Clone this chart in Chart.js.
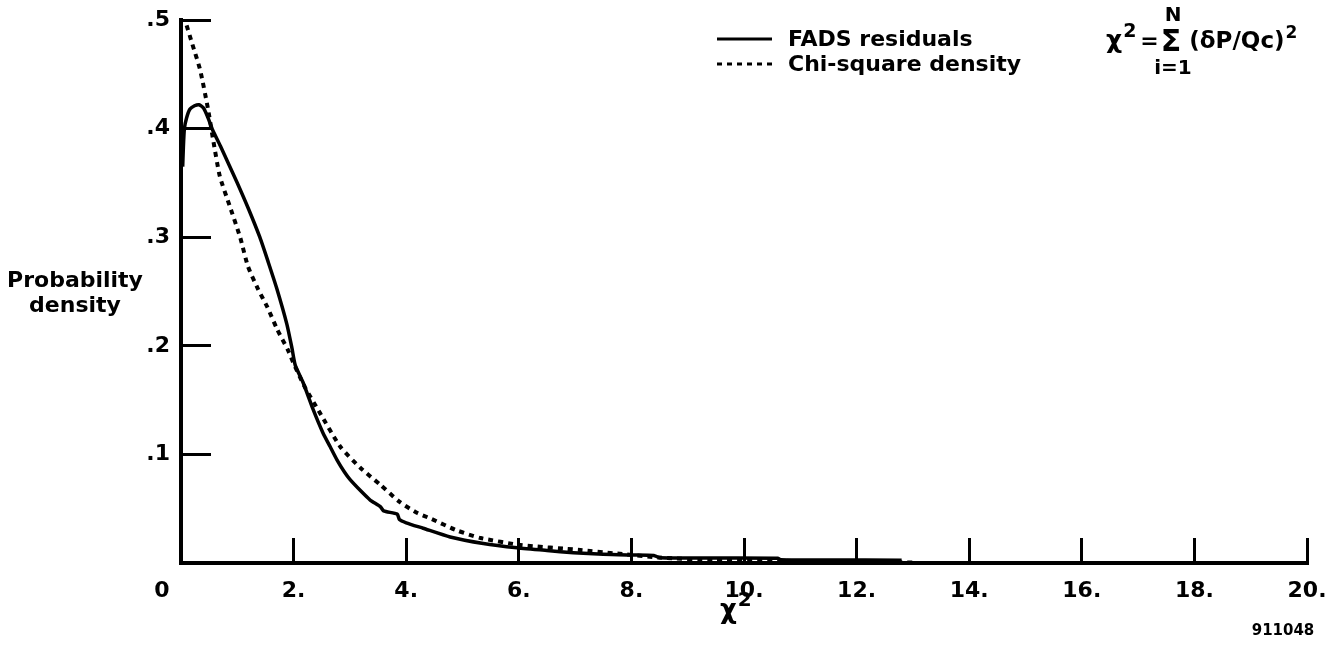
<!DOCTYPE html>
<html>
<head>
<meta charset="utf-8">
<script src="https://cdn.jsdelivr.net/npm/chart.js@4.4.1/dist/chart.umd.min.js"></script>
<style>
html, body { margin: 0; padding: 0; background: #fff; }
#cadre { width: 1335px; height: 649px; }
</style>
</head>
<body>
<div id="cadre"><canvas id="graphChi2"></canvas></div>
<script>

/* Résidus FADS (densité observée) */
const fadsX = [0.03, 0.04, 0.06, 0.1, 0.16, 0.24, 0.32, 0.4, 0.48, 0.56, 0.7, 0.85, 1.0, 1.2, 1.4, 1.55, 1.7, 1.88, 1.97, 2.03, 2.17, 2.35, 2.52, 2.65, 2.77, 2.9, 3.0, 3.2, 3.36, 3.54, 3.6, 3.84, 3.88, 4.0, 4.3, 4.78, 5.37, 5.97, 6.5, 6.97, 7.5, 7.98, 8.4, 8.5, 9.5, 10.6, 10.65, 11.5, 12.8];
const fadsY = [0.365, 0.38, 0.40, 0.41, 0.418, 0.421, 0.422, 0.419, 0.41, 0.399, 0.384, 0.367, 0.35, 0.326, 0.30, 0.277, 0.253, 0.22, 0.198, 0.182, 0.166, 0.141, 0.12, 0.107, 0.095, 0.084, 0.077, 0.066, 0.058, 0.052, 0.048, 0.045, 0.040, 0.037, 0.032, 0.024, 0.018, 0.014, 0.0115, 0.0095, 0.008, 0.0074, 0.007, 0.0048, 0.0046, 0.0044, 0.003, 0.0028, 0.0025];

/* Densité du chi-deux */
const chiX = [0.1, 0.2, 0.34, 0.48, 0.57, 0.69, 0.87, 1.05, 1.19, 1.37, 1.53, 1.71, 1.9, 1.99, 2.2, 2.47, 2.83, 3.18, 3.54, 3.89, 4.2, 4.43, 4.9, 5.32, 6.03, 7.09, 7.68, 8.5, 9.5, 10.7, 12.0, 13.0];
const chiY = [0.495, 0.478, 0.454, 0.418, 0.39, 0.356, 0.328, 0.30, 0.273, 0.252, 0.236, 0.215, 0.196, 0.185, 0.162, 0.138, 0.107, 0.088, 0.072, 0.056, 0.046, 0.041, 0.030, 0.023, 0.0166, 0.012, 0.009, 0.005, 0.0025, 0.002, 0.001, 0.0005];

/* Graduations */
const xTicks = [0, 2, 4, 6, 8, 10, 12, 14, 16, 18, 20];
const xTickLabels = ['0', '2.', '4.', '6.', '8.', '10.', '12.', '14.', '16.', '18.', '20.'];
const yTicks = [0, 0.1, 0.2, 0.3, 0.4, 0.5];
const yTickLabels = ['', '.1', '.2', '.3', '.4', '.5'];

const police = '"DejaVu Sans", "Liberation Sans", Arial, sans-serif';

function points(xs, ys) {
  return xs.map((x, i) => ({x: x, y: ys[i]}));
}

/* lettre avec exposant (chi2, (dP/Qc)2) */
function avecExposant(ctx, texte, x, base, taille) {
  ctx.font = 'bold ' + taille + 'px ' + police;
  ctx.fillText(texte, x, base);
  x += ctx.measureText(texte).width + 1;
  ctx.font = 'bold ' + Math.round(taille * 0.75) + 'px ' + police;
  ctx.fillText('2', x, base - taille * 0.45);
  return x + ctx.measureText('2').width;
}

/* textes libres : titres, légende, formule, numéro */
const textes = {
  id: 'textes',
  afterDraw(chart) {
    const ctx = chart.ctx;
    ctx.save();
    ctx.fillStyle = '#000';
    ctx.font = 'bold 22px ' + police;
    ctx.textAlign = 'center';
    ctx.textBaseline = 'middle';
    ctx.fillText('Probability', 75, 281);
    ctx.fillText('density', 75, 306);

    // légende
    chart.data.datasets.forEach((ds, i) => {
      const y = 39 + i * 25;
      ctx.beginPath();
      ctx.setLineDash(ds.borderDash || []);
      ctx.lineWidth = 3;
      ctx.strokeStyle = ds.borderColor;
      ctx.moveTo(717, y);
      ctx.lineTo(772, y);
      ctx.stroke();
      ctx.setLineDash([]);
      ctx.textAlign = 'left';
      ctx.fillText(ds.label, 788, y + 1);
    });

    // titre de l'axe x
    ctx.textBaseline = 'alphabetic';
    ctx.textAlign = 'left';
    avecExposant(ctx, '\u03C7', 720, 618, 26);

    // formule chi2 = somme (dP/Qc)^2
    let x = 1106;
    const base = 48;
    x = avecExposant(ctx, '\u03C7', x, base, 25) + 4;
    ctx.font = 'bold 22px ' + police;
    ctx.fillText('=', x, base);
    x += ctx.measureText('=').width + 2;
    ctx.font = 'bold 30px ' + police;
    const wSigma = ctx.measureText('\u03A3').width;
    ctx.fillText('\u03A3', x, base + 3);
    ctx.font = 'bold 20px ' + police;
    ctx.textAlign = 'center';
    ctx.fillText('N', x + wSigma / 2 + 2, base - 27);
    ctx.fillText('i=1', x + wSigma / 2 + 2, base + 26);
    ctx.textAlign = 'left';
    x += wSigma + 8;
    avecExposant(ctx, '(\u03B4P/Qc)', x, base, 23);

    // numéro de figure
    ctx.font = 'bold 15px ' + police;
    ctx.textAlign = 'center';
    ctx.textBaseline = 'middle';
    ctx.fillText('911048', 1283, 631);
    ctx.restore();
  }
};

const ctx = document.getElementById('graphChi2').getContext('2d');

new Chart(ctx, {
  type: 'line',
  data: {
    datasets: [{
      label: 'FADS residuals',
      data: points(fadsX, fadsY),
      borderColor: '#000',
      borderWidth: 3.5,
      pointRadius: 0,
      tension: 0.2,
      fill: false
    }, {
      label: 'Chi-square density',
      data: points(chiX, chiY),
      borderColor: '#000',
      borderWidth: 4,
      borderDash: [5, 5],
      pointRadius: 0,
      tension: 0.2,
      fill: false
    }]
  },
  options: {
    responsive: true,
    maintainAspectRatio: false,
    animation: false,
    devicePixelRatio: 1,
    layout: { padding: { left: 0, right: 28, top: 20, bottom: 0 } },
    plugins: { legend: { display: false }, tooltip: { enabled: false } },
    scales: {
      x: {
        type: 'linear',
        min: 0,
        max: 20,
        afterFit: function(scale) {
          scale.height = 86;
          scale.paddingLeft = 0;
          scale.paddingRight = 0;
        },
        afterBuildTicks: function(scale) { scale.ticks = xTicks.map(v => ({value: v})); },
        border: { display: true, color: '#000', width: 4 },
        grid: { drawOnChartArea: false, drawTicks: true, tickLength: -25, tickWidth: 3, tickColor: '#000' },
        ticks: {
          autoSkip: false,
          maxRotation: 0,
          padding: 40,
          color: '#000',
          font: { family: police, size: 22, weight: 'bold' },
          callback: function(v) {
            const lab = xTickLabels[xTicks.indexOf(v)];
            return v === 0 ? lab + '     ' : lab;
          }
        }
      },
      y: {
        min: 0,
        max: 0.5,
        afterFit: function(scale) {
          scale.width = 181;
          scale.paddingTop = 0;
          scale.paddingBottom = 0;
        },
        afterBuildTicks: function(scale) { scale.ticks = yTicks.map(v => ({value: v})); },
        border: { display: true, color: '#000', width: 4 },
        grid: { drawOnChartArea: false, drawTicks: true, tickLength: -30, tickWidth: 3, tickColor: '#000' },
        ticks: {
          padding: 41,
          color: '#000',
          font: { family: police, size: 22, weight: 'bold' },
          callback: function(v) {
            return yTickLabels[yTicks.indexOf(v)];
          }
        }
      }
    }
  },
  plugins: [textes]
});
</script>
</body>
</html>
